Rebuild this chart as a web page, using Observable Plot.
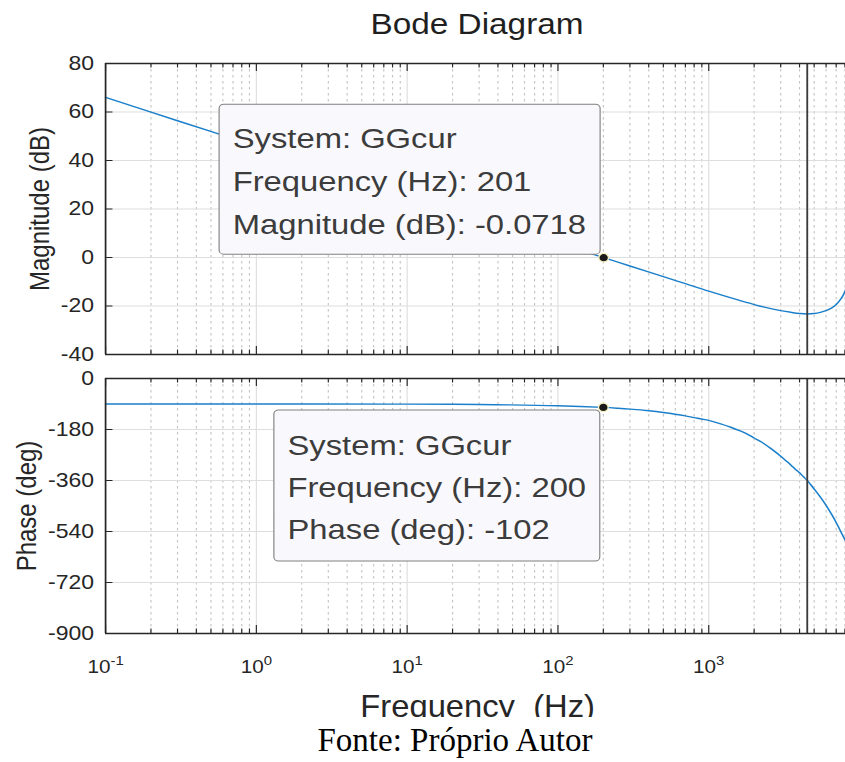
<!DOCTYPE html>
<html>
<head>
<meta charset="utf-8">
<script src="https://cdn.jsdelivr.net/npm/d3@7"></script>
<script src="https://cdn.jsdelivr.net/npm/@observablehq/plot@0.6"></script>
<style>
  html, body { margin: 0; padding: 0; background: #fff; }
  body { width: 845px; height: 762px; overflow: hidden; position: relative; font-family: "Liberation Sans", Arial, sans-serif; }
  /* The figure is laid out at 735px and widened to the 845px page */
  #figure { position: absolute; left: 0; top: 0; width: 735px; height: 717px; transform: scaleX(1.15); transform-origin: 0 0; }
  #title { position: absolute; top: 9.5px; left: 414.8px; transform: translateX(-50%); font-size: 29px; line-height: 29px; color: #1f1f1f; white-space: nowrap; }
  #mag { position: absolute; left: 0; top: 45px; }
  #phase { position: absolute; left: 0; top: 365px; }
  #caption { position: absolute; top: 724px; left: 455px; transform: translateX(-50%); font-family: "Liberation Serif", "Times New Roman", serif; font-size: 33px; line-height: 33px; color: #000; white-space: nowrap; }
</style>
</head>
<body>
<div id="figure">
  <div id="title">Bode Diagram</div>
  <div id="mag"></div>
  <div id="phase"></div>
</div>
<div id="caption">Fonte: Próprio Autor</div>
<script>
// Frequency response of GGcur: magnitude (dB) and phase (deg) against frequency (Hz)
const magFreqHz = [0.1, 0.3, 1, 3, 10, 30, 100, 201, 300, 500, 700, 1000, 1500, 2000, 2500, 3000, 3500, 4000, 4500, 5000, 5500, 6000, 6500, 7000, 7500, 7800, 8110];
const magDb = [66.0, 56.4, 46.0, 36.4, 26.0, 16.4, 6.0, -0.0718, -3.5, -7.9, -10.8, -13.9, -17.2, -19.4, -20.9, -21.9, -22.6, -23.1, -23.3, -23.1, -22.6, -21.9, -20.9, -19.4, -17.2, -15.5, -13.0];

const phaseFreqHz = [0.1, 1, 10, 30, 100, 200, 250, 300, 400, 500, 600, 700, 800, 900, 1000, 1200, 1400, 1600, 1800, 2000, 2250, 2500, 2750, 3000, 3250, 3500, 3750, 4000, 4250, 4500, 4750, 5000, 5500, 6000, 6500, 7000, 7500, 8110];
const phaseDeg = [-90.0, -90.1, -90.6, -91.8, -96.0, -102, -105, -108, -114, -120, -126, -132, -138, -143, -148, -160, -172, -184, -196, -210, -225, -242, -258, -274, -290, -305, -320, -333, -347, -360, -375, -390, -419, -448, -478, -508, -540, -575];

// Nyquist frequency marker
const nyquistHz = [4500];

// Data tips
const systemName = "GGcur";
const magTipFreq = 201;
const magTipValue = -0.0718;
const phaseTipFreq = 200;
const phaseTipValue = -102;

// Axes
const freqRange = [0.1, 8110];
const decades = [0.1, 1, 10, 100, 1000];
const decadeLabels = ["10^-1", "10^0", "10^1", "10^2", "10^3"];
const minorSteps = [2, 3, 4, 5, 6, 7, 8, 9];
const magRange = [-40, 80];
const magTicks = [80, 60, 40, 20, 0, -20, -40];
const phaseRange = [-900, 0];
const phaseTicks = [0, -180, -360, -540, -720, -900];
const xTitle = "Frequency  (Hz)";

const minorTicks = decades.flatMap(d => minorSteps.map(m => m * d)).filter(f => f <= freqRange[1]);

const W = 735, ML = 91.3;
const ink = "#262626";
const gridMajor = "#dedede";
const gridMinor = "#c4c4c4";
const curveBlue = "#1a7fca";

function panel({height, marginTop, marginBottom, yDomain, yTicks, freq, values, xAxis, yLabel, yLabelDx, tip}) {
  const plotH = height - marginTop - marginBottom;
  const plotW = W - ML;
  const series = freq.map((f, i) => ({f, v: values[i]}));
  const marks = [
    Plot.ruleX(minorTicks, {stroke: gridMinor, strokeDasharray: "2.5,3.5", strokeWidth: 1}),
    Plot.ruleX(decades, {stroke: gridMajor, strokeWidth: 1}),
    Plot.ruleY(yTicks, {stroke: gridMajor, strokeWidth: 1}),
    Plot.line(series, {x: "f", y: "v", stroke: curveBlue, strokeWidth: 1.4, curve: "catmull-rom"}),
    Plot.ruleX(nyquistHz, {stroke: "#3a3a3a", strokeWidth: 1.6}),
    // inward tick marks on the box
    Plot.tickX(decades, {x: d => d, stroke: ink, insetTop: plotH - 8}),
    Plot.tickX(decades, {x: d => d, stroke: ink, insetBottom: plotH - 8}),
    Plot.tickX(minorTicks, {x: d => d, stroke: ink, insetTop: plotH - 4.5}),
    Plot.tickX(minorTicks, {x: d => d, stroke: ink, insetBottom: plotH - 4.5}),
    Plot.tickY(yTicks, {y: d => d, stroke: ink, insetRight: plotW - 6.5}),
    // box edges
    Plot.ruleY(yDomain, {stroke: ink, strokeWidth: 1.5}),
    Plot.ruleX([freqRange[0]], {stroke: ink, strokeWidth: 1.5}),
    Plot.text([yLabel], {text: d => d, frameAnchor: "left", rotate: -90, dx: yLabelDx, fontSize: 24, fill: ink, textAnchor: "middle", lineAnchor: "middle"}),
    // data tip
    Plot.rect([tip], {x1: "f", x2: "f", y1: "v", y2: "v", fill: "#f9f9fd", stroke: "#808080", strokeWidth: 1, rx: 4,
      insetLeft: tip.box[0], insetRight: tip.box[1], insetTop: tip.box[2], insetBottom: tip.box[3]}),
    Plot.text([tip], {x: "f", y: "v", text: "label", textAnchor: "start", lineAnchor: "bottom", dx: tip.dx, dy: tip.dy,
      fontSize: 28.5, lineHeight: tip.lineHeight, fill: "#3c3c3c"}),
    Plot.dot([tip], {x: "f", y: "v", r: 4.2, fill: "#1a1a1a", stroke: "#f3eebd", strokeWidth: 1.2})
  ];
  if (xAxis) {
    marks.push(Plot.text([xTitle], {text: d => d, frameAnchor: "bottom", dx: 1.7, dy: 83, lineAnchor: "bottom", fontSize: 32, fill: ink}));
  }
  return Plot.plot({
    width: W,
    height,
    marginLeft: ML,
    marginRight: 0,
    marginTop,
    marginBottom,
    style: {fontFamily: "'Liberation Sans', Arial, sans-serif", fontSize: "20px", color: ink, background: "transparent", overflow: "hidden"},
    x: xAxis
      ? {type: "log", domain: freqRange, ticks: decades, tickFormat: d => decadeLabels[decades.indexOf(d)], tickSize: 0, tickPadding: 27, label: null}
      : {type: "log", domain: freqRange, axis: null},
    y: {domain: yDomain, ticks: yTicks, tickFormat: d => `${d}`, tickSize: 0, tickPadding: 10, label: null},
    marks
  });
}

const magPlot = panel({
  height: 320, marginTop: 18, marginBottom: 11,
  yDomain: magRange, yTicks: magTicks,
  freq: magFreqHz, values: magDb,
  xAxis: false,
  yLabel: "Magnitude (dB)", yLabelDx: -56.5,
  tip: {f: magTipFreq, v: magTipValue,
        label: `System: ${systemName}\nFrequency (Hz): ${magTipFreq}\nMagnitude (dB): ${magTipValue}`,
        box: [-333.9, 2.6, -153, 3], dx: -322.6, dy: -24, lineHeight: 1.51}
});

const phasePlot = panel({
  height: 352, marginTop: 13, marginBottom: 84,
  yDomain: phaseRange, yTicks: phaseTicks,
  freq: phaseFreqHz, values: phaseDeg,
  xAxis: true,
  yLabel: "Phase (deg)", yLabelDx: -68.3,
  tip: {f: phaseTipFreq, v: phaseTipValue,
        label: `System: ${systemName}\nFrequency (Hz): ${phaseTipFreq}\nPhase (deg): ${phaseTipValue}`,
        box: [-286, 2.6, 3.1, -154.1], dx: -274.7, dy: 132, lineHeight: 1.475}
});

document.getElementById("mag").append(magPlot);
document.getElementById("phase").append(phasePlot);

// Decade tick labels as 10 with a raised exponent; frequency title fitted to its width
const svgNS = "http://www.w3.org/2000/svg";
phasePlot.querySelectorAll("text").forEach(t => {
  if (t.textContent === xTitle) {
    t.setAttribute("textLength", "204");
    t.setAttribute("lengthAdjust", "spacingAndGlyphs");
    return;
  }
  const m = /^10\^(.+)$/.exec(t.textContent);
  if (!m) return;
  t.textContent = "10";
  t.style.fontSize = "18px";
  const sup = document.createElementNS(svgNS, "tspan");
  sup.textContent = m[1];
  sup.setAttribute("dy", "-8");
  sup.style.fontSize = "13px";
  t.appendChild(sup);
});
</script>
</body>
</html>
